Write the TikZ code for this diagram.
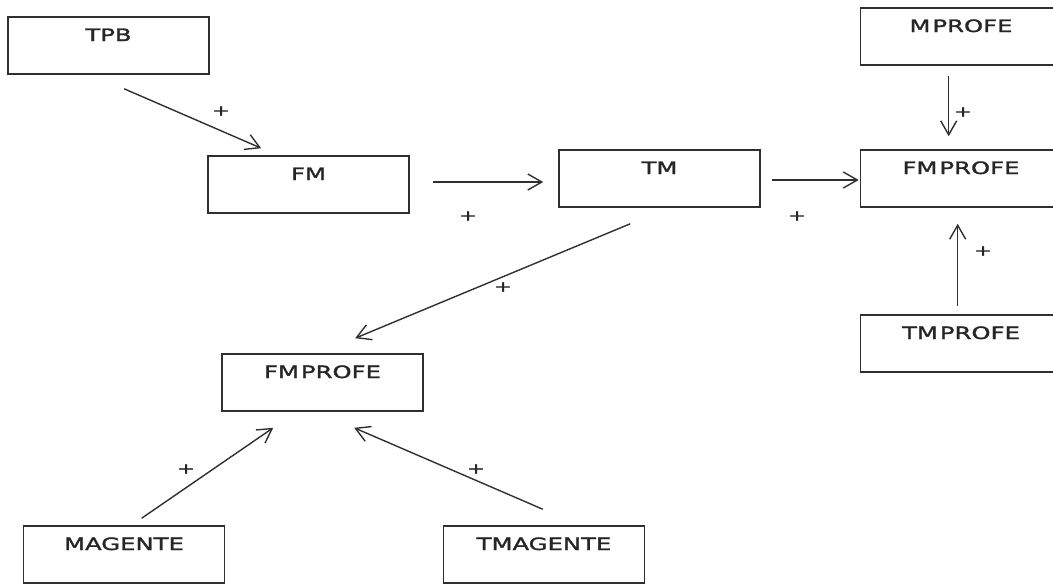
\documentclass[tikz,border=0pt]{standalone}
\usepackage{fontspec}
\newfontfamily\boxfont[FakeStretch=1.43,FakeBold=1.6]{DejaVu Sans}
\usetikzlibrary{arrows.meta,calc}
\definecolor{ln}{HTML}{303030}
\tikzset{
  box/.style={draw=ln, line width=1.6pt, rectangle, minimum width=201pt, minimum height=57pt,
    inner xsep=0pt, inner ysep=11pt, text height=13pt, text depth=22pt,
    font=\boxfont\fontsize{17pt}{20pt}\selectfont, text=black!85},
  conn/.style={draw=ln, line width=1.4pt, -{Straight Barb[length=14pt,width=16pt,line width=1.4pt]}},
  plus/.style={font=\boxfont\fontsize{15pt}{17pt}\selectfont, inner sep=0pt, text=black!85}
}
\begin{document}
\begin{tikzpicture}[x=1pt,y=-1pt]
\clip (0,0) rectangle (1053,584);
\fill[white] (0,0) rectangle (1053,584);
% boxes
\node[box] (tpb) at (108.5,45.5) {TPB};
\node[box] (fm) at (308.5,184.5) {FM};
\node[box] (tm) at (659.5,178.5) {TM};
\node[box] (fmpr) at (961,178.5) {FM\kern2pt PROFE};
\node[box] (mpr) at (961,36.5) {M\kern2pt PROFE};
\node[box] (tmpr) at (961,343.5) {TM\kern2pt PROFE};
\node[box] (fmpl) at (322.5,382.5) {FM\kern2pt PROFE};
\node[box] (mag) at (124,554.5) {MAGENTE};
\node[box] (tmag) at (544,554.5) {TMAGENTE};
% connector end points
\coordinate (a1) at ($(tpb.south west)+(117,14)$);
\coordinate (a2) at ($(fm.north west)+(54,-7)$);
\coordinate (b1) at ($(fm.east)+(23,-2.5)$);
\coordinate (b2) at ($(tm.west)+(-15,3.5)$);
\coordinate (c1) at ($(tm.east)+(11,1.5)$);
\coordinate (c2) at ($(fmpr.west)+(-1,1.5)$);
\coordinate (d1) at ($(mpr.south west)+(89,10)$);
\coordinate (d2) at ($(fmpr.north west)+(89,-13)$);
\coordinate (e1) at ($(tmpr.north west)+(98,-8)$);
\coordinate (e2) at ($(fmpr.south west)+(98,16)$);
\coordinate (f1) at ($(tm.south west)+(72,16)$);
\coordinate (f2) at ($(fmpl.north west)+(134,-15)$);
\coordinate (g1) at ($(mag.north west)+(119,-7)$);
\coordinate (g2) at ($(fmpl.south west)+(52,16)$);
\coordinate (h1) at ($(tmag.north west)+(100,-16)$);
\coordinate (h2) at ($(fmpl.south west)+(133,16)$);
% connectors
\draw[conn] (a1) -- (a2);
\draw[conn] (b1) -- (b2);
\draw[conn] (c1) -- (c2);
\draw[conn] (d1) -- (d2);
\draw[conn] (e1) -- (e2);
\draw[conn] (f1) -- (f2);
\draw[conn] (g1) -- (g2);
\draw[conn] (h1) -- (h2);
% signs
\node[plus] (p1) at (221,111) {+};
\node[plus] (p2) at (468,216) {+};
\node[plus] (p3) at (797,216) {+};
\node[plus] (p4) at (963,112) {+};
\node[plus] (p5) at (983,251) {+};
\node[plus] (p6) at (503,287) {+};
\node[plus] (p7) at (186,469) {+};
\node[plus] (p8) at (476,469) {+};
\end{tikzpicture}
\end{document}
